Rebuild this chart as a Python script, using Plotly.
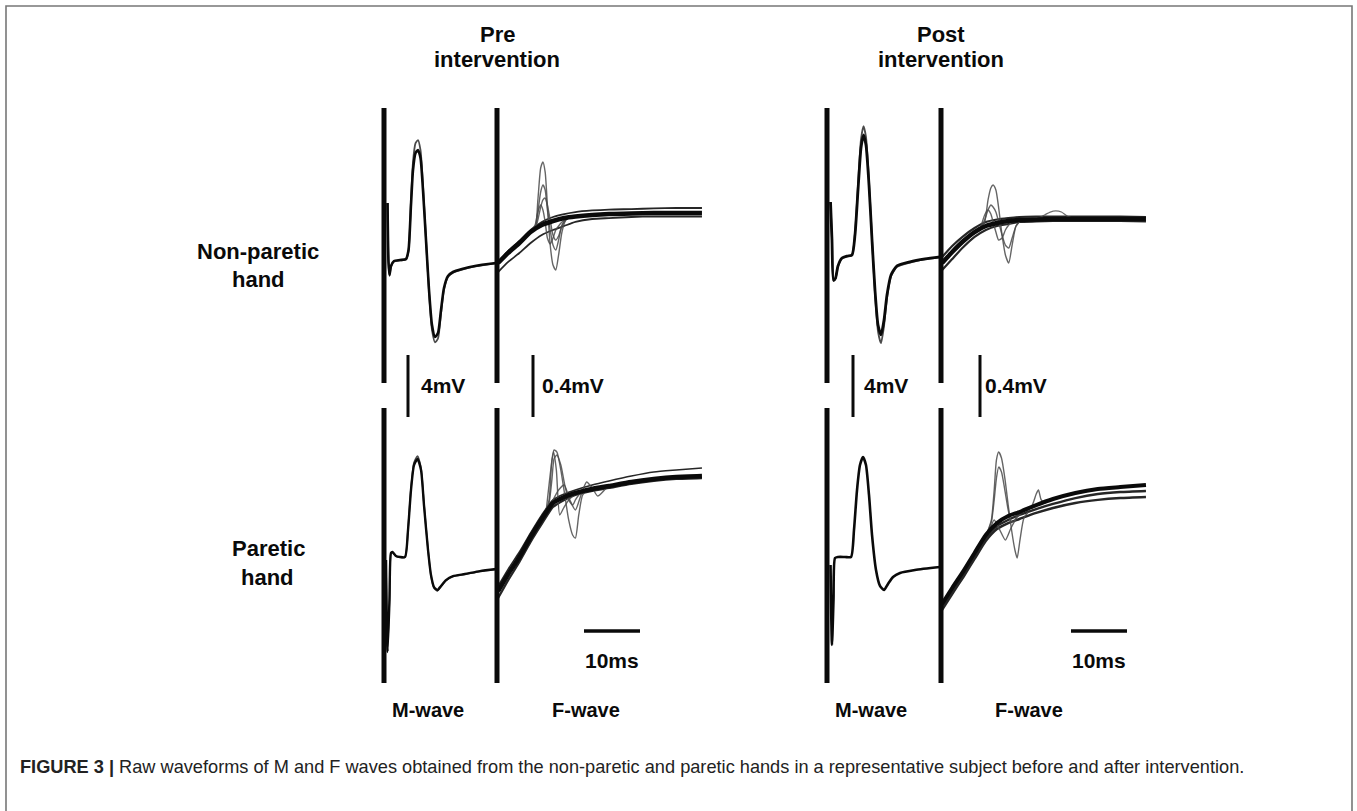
import plotly.graph_objects as go

W, H = 1357, 811

# ---------------- data (time in ms, amplitude in mV) ----------------
# M-waves
m_pre_np_t = [0.63, 0.80, 0.98, 1.25, 1.79, 2.86, 3.93, 4.38, 4.82, 5.18, 5.63, 6.07, 6.52, 6.96, 7.5, 8.04,
              8.57, 9.11, 9.64, 10.18, 10.71, 11.43, 12.32, 13.93, 16.25, 20.0]
m_pre_np_a = [2.74, -1.06, -1.90, -1.32, -1.00, -0.94, -0.87, -0.29, 2.61, 4.87, 5.97, 6.16, 5.65, 3.58, 0.35, -2.87,
              -5.13, -5.90, -5.65, -4.16, -2.74, -1.97, -1.71, -1.52, -1.32, -1.13]
m_pre_np_b = [2.74, -1.06, -1.95, -1.36, -1.03, -0.96, -0.90, -0.35, 2.90, 5.40, 6.60, 6.80, 6.15, 3.90, 0.40, -3.00,
              -5.45, -6.25, -6.00, -4.40, -2.85, -2.02, -1.75, -1.55, -1.35, -1.15]

m_pre_p_t = [0.36, 0.63, 0.98, 1.25, 1.52, 2.14, 2.86, 3.75, 4.29, 4.82, 5.36, 5.98, 6.61, 7.14, 7.86, 8.39,
             8.93, 9.55, 10.18, 11.07, 12.32, 14.46, 17.14, 20.0]
m_pre_p_a = [-0.94, -6.87, -3.52, -0.48, -0.42, -0.68, -0.74, -0.74, 1.0, 3.58, 5.19, 5.58, 4.87, 2.61, -0.29, -1.90,
             -2.68, -2.87, -2.61, -2.23, -1.97, -1.84, -1.65, -1.52]
m_pre_p_b = [-0.94, -6.80, -3.50, -0.50, -0.44, -0.70, -0.76, -0.76, 1.05, 3.70, 5.35, 5.77, 5.00, 2.70, -0.25, -1.95,
             -2.75, -2.93, -2.66, -2.26, -2.00, -1.86, -1.67, -1.54]

m_post_np_t = [0.63, 0.89, 1.16, 1.52, 1.96, 2.68, 3.57, 4.46, 5.0, 5.54, 6.07, 6.52, 6.96, 7.5, 8.04, 8.57,
               9.11, 9.64, 10.18, 10.71, 11.43, 12.5, 14.82, 17.5, 20.18]
m_post_np_a = [2.81, 0.35, -2.23, -2.10, -1.32, -0.81, -0.68, -0.61, 0.68, 3.58, 6.29, 7.13, 6.48, 3.90, 0.35, -2.87,
               -5.13, -5.77, -4.81, -3.19, -1.90, -1.32, -1.06, -0.87, -0.74]
m_post_np_b = [2.81, 0.35, -2.30, -2.15, -1.35, -0.83, -0.70, -0.63, 0.80, 3.95, 6.85, 7.70, 7.00, 4.20, 0.40, -3.10,
               -5.55, -6.30, -5.20, -3.40, -2.00, -1.38, -1.10, -0.90, -0.76]

m_post_p_t = [0.63, 0.89, 1.16, 1.43, 1.96, 3.21, 4.29, 4.82, 5.36, 5.89, 6.43, 6.96, 7.5, 8.04, 8.75, 9.46,
              10.18, 10.89, 11.79, 13.04, 15.71, 20.18]
m_post_p_a = [-1.26, -6.42, -3.52, -0.81, -0.74, -0.74, -0.74, 1.0, 3.58, 5.19, 5.71, 5.19, 3.26, 0.68, -1.58, -2.61,
              -2.87, -2.48, -2.03, -1.77, -1.58, -1.39]

# F-wave background (baseline) traces, common time grid
f_base_t = [0.2, 2, 4, 6, 8, 10, 12, 14, 17, 20, 24, 28, 32, 36.6]

f_pre_np_mid = [-0.113, -0.048, 0.016, 0.087, 0.132, 0.158, 0.177, 0.187, 0.197, 0.203, 0.206, 0.210, 0.210, 0.210]
f_pre_np_low = [-0.171, -0.106, -0.048, 0.016, 0.068, 0.100, 0.126, 0.152, 0.171, 0.177, 0.184, 0.187, 0.187, 0.187]
f_pre_np_up = [-0.106, -0.035, 0.029, 0.100, 0.152, 0.184, 0.203, 0.216, 0.226, 0.232, 0.235, 0.239, 0.242, 0.242]

f_pre_p_mid = [-0.294, -0.184, -0.074, 0.055, 0.171, 0.274, 0.313, 0.339, 0.365, 0.384, 0.410, 0.429, 0.442, 0.448]
f_pre_p_low = [-0.339, -0.223, -0.106, 0.023, 0.139, 0.248, 0.294, 0.326, 0.352, 0.371, 0.397, 0.416, 0.429, 0.435]
f_pre_p_up = [-0.261, -0.152, -0.042, 0.081, 0.197, 0.294, 0.332, 0.358, 0.390, 0.416, 0.448, 0.474, 0.487, 0.500]

f_post_np_mid = [-0.113, -0.042, 0.029, 0.087, 0.126, 0.145, 0.158, 0.165, 0.168, 0.171, 0.171, 0.171, 0.171, 0.171]
f_post_np_low = [-0.158, -0.087, -0.010, 0.055, 0.100, 0.126, 0.139, 0.152, 0.155, 0.158, 0.158, 0.158, 0.158, 0.155]
f_post_np_up = [-0.074, -0.003, 0.061, 0.113, 0.152, 0.168, 0.177, 0.184, 0.187, 0.187, 0.187, 0.187, 0.187, 0.184]

f_post_p_up = [-0.377, -0.274, -0.165, -0.048, 0.068, 0.145, 0.190, 0.216, 0.261, 0.300, 0.339, 0.365, 0.377, 0.390]
f_post_p_mid = [-0.397, -0.294, -0.184, -0.068, 0.048, 0.126, 0.165, 0.197, 0.235, 0.268, 0.306, 0.332, 0.345, 0.352]
f_post_p_low = [-0.416, -0.313, -0.203, -0.087, 0.029, 0.106, 0.145, 0.171, 0.210, 0.242, 0.274, 0.294, 0.306, 0.313]

# F-wave responses
fr_pre_np_t = [6, 6.8, 7.3, 7.8, 8.2, 8.6, 9.0, 9.5, 10.0, 10.5, 11.0, 11.6, 12.3, 13.4]
fr_pre_np_1 = [0.087, 0.106, 0.294, 0.500, 0.539, 0.474, 0.261, 0.003, -0.126, -0.158, -0.061, 0.087, 0.165, 0.190]
fr_pre_np_2 = [0.087, 0.106, 0.216, 0.345, 0.390, 0.358, 0.229, 0.100, 0.003, -0.029, 0.035, 0.132, 0.171, 0.190]
fr_pre_np_3 = [0.087, 0.106, 0.165, 0.248, 0.294, 0.306, 0.261, 0.165, 0.068, 0.035, 0.061, 0.126, 0.165, 0.190]
fr_pre_np_4 = [0.087, 0.132, 0.216, 0.261, 0.229, 0.152, 0.048, 0.010, 0.048, 0.100, 0.126, 0.152, 0.171, 0.190]

fr_pre_p_t = [8.5, 9.3, 9.8, 10.2, 10.7, 11.4, 12.1, 12.8, 13.5, 14.0, 14.6, 15.3, 16.3]
fr_pre_p_1 = [0.197, 0.294, 0.552, 0.616, 0.603, 0.487, 0.326, 0.165, 0.068, 0.048, 0.197, 0.326, 0.358]
fr_pre_p_2 = [0.197, 0.274, 0.423, 0.561, 0.584, 0.519, 0.390, 0.294, 0.261, 0.294, 0.326, 0.345, 0.358]
fr_pre_p_3_t = [8.5, 10, 11, 12, 13, 14, 15, 16, 17, 18, 19.5]
fr_pre_p_3 = [0.197, 0.294, 0.358, 0.390, 0.294, 0.229, 0.326, 0.410, 0.371, 0.319, 0.371]
fr_pre_p_4_t = [8.8, 9.6, 10.1, 10.6, 11.2, 11.9, 12.8, 14]
fr_pre_p_4 = [0.229, 0.487, 0.603, 0.487, 0.197, 0.242, 0.294, 0.332]

fr_post_np_t = [7.0, 7.8, 8.4, 8.9, 9.3, 9.8, 10.3, 10.9, 11.5, 12.1, 12.7, 13.4, 14.3]
fr_post_np_1 = [0.106, 0.152, 0.294, 0.371, 0.390, 0.358, 0.242, 0.068, -0.061, -0.113, 0.003, 0.126, 0.165]
fr_post_np_2 = [0.106, 0.165, 0.229, 0.261, 0.248, 0.216, 0.152, 0.068, 0.003, -0.016, 0.048, 0.126, 0.165]
fr_post_np_3 = [0.106, 0.197, 0.229, 0.203, 0.152, 0.087, 0.035, 0.048, 0.100, 0.132, 0.152, 0.158, 0.165]
fr_post_np_4_t = [17, 18.5, 19.5, 20.5, 21.5, 22.5, 24]
fr_post_np_4 = [0.171, 0.197, 0.216, 0.223, 0.216, 0.190, 0.171]

fr_post_p_t = [8.3, 9.0, 9.5, 9.9, 10.3, 10.8, 11.4, 12.0, 12.6, 13.2, 13.6, 14.1, 14.8, 15.6]
fr_post_p_1 = [0.087, 0.165, 0.358, 0.552, 0.603, 0.565, 0.435, 0.261, 0.100, -0.029, -0.081, 0.035, 0.177, 0.216]
fr_post_p_2 = [0.087, 0.152, 0.294, 0.435, 0.506, 0.474, 0.358, 0.229, 0.152, 0.165, 0.197, 0.216, 0.229, 0.229]
fr_post_p_3_t = [15.5, 16.3, 17.0, 17.4, 17.9, 18.6, 19.5]
fr_post_p_3 = [0.229, 0.261, 0.332, 0.358, 0.294, 0.274, 0.300]
fr_post_p_4_t = [8.5, 9.5, 10.5, 11.5, 12.5, 13.5, 14.5]
fr_post_p_4 = [0.074, 0.165, 0.100, 0.035, 0.113, 0.177, 0.216]

# scale bars
scale_m_mv = 4
scale_f_mv = 0.4
scale_t_ms = 10

# text
col_titles = [("Pre", "intervention"), ("Post", "intervention")]
row_titles = [("Non-paretic", "hand"), ("Paretic", "hand")]
wave_labels = ["M-wave", "F-wave"]
caption = ("<b>FIGURE 3 |</b> Raw waveforms of M and F waves obtained from the non-paretic and paretic hands "
           "in a representative subject before and after intervention.")

# ---------------- layout geometry (pixels) ----------------
PX_PER_MS = 5.6
PX_PER_MV_M = 15.5
PX_PER_MV_F = 155.0


def px(x):
    return x / W


def py(y):
    return 1 - y / H


col_lines = [(384, 497, 704), (827, 941, 1148)]  # M line, F line, F end
rows = [(108, 383), (408, 683)]
scale_rows = (355, 417)

fig = go.Figure()
BLACK = "#0a0a0a"
DARK = "#262626"
GRAY = "#4a4a4a"
FONT = "Liberation Sans, Arial, sans-serif"


def line(x, y, xa, ya, color, width, opacity=1.0):
    fig.add_trace(go.Scatter(x=x, y=y, xaxis=xa, yaxis=ya, mode="lines",
                             line=dict(color=color, width=width, shape="spline", smoothing=0.6),
                             opacity=opacity, hoverinfo="skip", showlegend=False))


# pre, non-paretic
line(m_pre_np_t, m_pre_np_b, "x", "y", GRAY, 1.8)
line(m_pre_np_t, m_pre_np_a, "x", "y", BLACK, 2.6)
line(f_base_t, f_pre_np_low, "x2", "y2", DARK, 1.8)
line(f_base_t, f_pre_np_up, "x2", "y2", DARK, 1.8)
for r in (fr_pre_np_1, fr_pre_np_2, fr_pre_np_3, fr_pre_np_4):
    line(fr_pre_np_t, r, "x2", "y2", GRAY, 1.4, 0.85)
line(f_base_t, f_pre_np_mid, "x2", "y2", BLACK, 4.5)
# pre, paretic
line(m_pre_p_t, m_pre_p_b, "x", "y3", GRAY, 1.6)
line(m_pre_p_t, m_pre_p_a, "x", "y3", BLACK, 2.4)
line(f_base_t, f_pre_p_low, "x2", "y4", DARK, 2.2)
line(f_base_t, f_pre_p_up, "x2", "y4", DARK, 1.6)
line(fr_pre_p_t, fr_pre_p_1, "x2", "y4", GRAY, 1.4, 0.85)
line(fr_pre_p_t, fr_pre_p_2, "x2", "y4", GRAY, 1.4, 0.85)
line(fr_pre_p_3_t, fr_pre_p_3, "x2", "y4", GRAY, 1.4, 0.85)
line(fr_pre_p_4_t, fr_pre_p_4, "x2", "y4", GRAY, 1.4, 0.85)
line(f_base_t, f_pre_p_mid, "x2", "y4", BLACK, 4.5)
# post, non-paretic
line(m_post_np_t, m_post_np_b, "x3", "y", GRAY, 1.8)
line(m_post_np_t, m_post_np_a, "x3", "y", BLACK, 2.8)
line(f_base_t, f_post_np_low, "x4", "y2", DARK, 2.2)
line(f_base_t, f_post_np_up, "x4", "y2", DARK, 2.2)
for r in (fr_post_np_1, fr_post_np_2, fr_post_np_3):
    line(fr_post_np_t, r, "x4", "y2", GRAY, 1.4, 0.85)
line(fr_post_np_4_t, fr_post_np_4, "x4", "y2", GRAY, 1.3, 0.8)
line(f_base_t, f_post_np_mid, "x4", "y2", BLACK, 4.5)
# post, paretic
line(m_post_p_t, m_post_p_a, "x3", "y3", BLACK, 2.6)
line(f_base_t, f_post_p_low, "x4", "y4", DARK, 2.4)
line(f_base_t, f_post_p_mid, "x4", "y4", DARK, 2.4)
line(fr_post_p_t, fr_post_p_1, "x4", "y4", GRAY, 1.4, 0.85)
line(fr_post_p_t, fr_post_p_2, "x4", "y4", GRAY, 1.4, 0.85)
line(fr_post_p_3_t, fr_post_p_3, "x4", "y4", GRAY, 1.4, 0.85)
line(fr_post_p_4_t, fr_post_p_4, "x4", "y4", GRAY, 1.4, 0.85)
line(f_base_t, f_post_p_up, "x4", "y4", BLACK, 4)

# scale bars (drawn on the panels' own scales)
m_bar_ms = [(408 - 384) / PX_PER_MS, (853 - 827) / PX_PER_MS]
f_bar_ms = [(533 - 497) / PX_PER_MS, (980 - 941) / PX_PER_MS]
t_bar_start = [(584 - 497) / PX_PER_MS, (1071 - 941) / PX_PER_MS]
t_bar_y = (545.5 - 631) / PX_PER_MV_F
for i, (xm, xf) in enumerate([("x", "x2"), ("x3", "x4")]):
    fig.add_trace(go.Scatter(x=[m_bar_ms[i]] * 2, y=[0, scale_m_mv], xaxis=xm, yaxis="y5", mode="lines",
                             line=dict(color=BLACK, width=3), hoverinfo="skip", showlegend=False))
    fig.add_trace(go.Scatter(x=[f_bar_ms[i]] * 2, y=[0, scale_f_mv], xaxis=xf, yaxis="y6", mode="lines",
                             line=dict(color=BLACK, width=3), hoverinfo="skip", showlegend=False))
    fig.add_trace(go.Scatter(x=[t_bar_start[i], t_bar_start[i] + scale_t_ms], y=[t_bar_y] * 2, xaxis=xf,
                             yaxis="y4", mode="lines", line=dict(color=BLACK, width=3.5),
                             hoverinfo="skip", showlegend=False))

hidden = dict(visible=False, showgrid=False, zeroline=False, fixedrange=True)
lay = {}
for i, (xm, xf, xe) in enumerate(col_lines):
    n_m = 1 + 2 * i
    n_f = 2 + 2 * i
    lay["xaxis" if n_m == 1 else f"xaxis{n_m}"] = dict(hidden, domain=[px(xm), px(xf)],
                                                       range=[0, (xf - xm) / PX_PER_MS], anchor="y")
    lay[f"xaxis{n_f}"] = dict(hidden, domain=[px(xf), px(xe)], range=[0, (xe - xf) / PX_PER_MS], anchor="y")

half_m = (rows[0][1] - rows[0][0]) / 2 / PX_PER_MV_M
half_f = (rows[0][1] - rows[0][0]) / 2 / PX_PER_MV_F
lay["yaxis"] = dict(hidden, domain=[py(rows[0][1]), py(rows[0][0])], range=[-half_m, half_m], anchor="x")
lay["yaxis2"] = dict(hidden, domain=[py(rows[0][1]), py(rows[0][0])], range=[-half_f, half_f], anchor="x")
lay["yaxis3"] = dict(hidden, domain=[py(rows[1][1]), py(rows[1][0])], range=[-half_m, half_m], anchor="x")
lay["yaxis4"] = dict(hidden, domain=[py(rows[1][1]), py(rows[1][0])], range=[-half_f, half_f], anchor="x")
sh = scale_rows[1] - scale_rows[0]
lay["yaxis5"] = dict(hidden, domain=[py(scale_rows[1]), py(scale_rows[0])], range=[0, sh / PX_PER_MV_M], anchor="x")
lay["yaxis6"] = dict(hidden, domain=[py(scale_rows[1]), py(scale_rows[0])], range=[0, sh / PX_PER_MV_F], anchor="x")

shapes = []
for (xm, xf, xe) in col_lines:
    for (r0, r1) in rows:
        for xx in (xm, xf):
            shapes.append(dict(type="line", xref="paper", yref="paper", x0=px(xx), x1=px(xx),
                               y0=py(r0), y1=py(r1), line=dict(color=BLACK, width=5)))
# outer frame (open at the bottom edge of the picture)
shapes.append(dict(type="rect", xref="paper", yref="paper", x0=px(6), x1=px(1352), y0=py(6), y1=py(840),
                   line=dict(color="#777777", width=1.6), fillcolor="rgba(0,0,0,0)"))

ann = []


def txt(s, x, y, size=22, anchor="center", color=BLACK, bold=True):
    ann.append(dict(text=f"<b>{s}</b>" if bold else s, x=px(x), y=py(y), xref="paper", yref="paper",
                    showarrow=False, xanchor=anchor, yanchor="middle",
                    font=dict(family=FONT, size=size, color=color)))


for (t1, t2), cx in zip(col_titles, (497, 941)):
    txt(t1, cx, 35)
    txt(t2, cx, 60)
txt(row_titles[0][0], 258, 252)
txt(row_titles[0][1], 258, 280)
txt(row_titles[1][0], 268, 548)
txt(row_titles[1][1], 267, 577)
for off in (0, 443):
    txt("4mV", 419 + off, 385, size=21, anchor="left")
    txt("0.4mV", 540 + off, 385, size=21, anchor="left")
for cx in (612, 1099):
    txt("10ms", cx, 660, size=21)
for off in (0, 443):
    txt(wave_labels[0], 428 + off, 710, size=20)
    txt(wave_labels[1], 586 + off, 710, size=20)

ann.append(dict(text=caption, x=px(18), y=py(767), xref="paper", yref="paper", showarrow=False,
                xanchor="left", yanchor="middle", font=dict(family=FONT, size=18.2, color="#222222")))

fig.update_layout(width=W, height=H, margin=dict(l=0, r=0, t=0, b=0), paper_bgcolor="white",
                  plot_bgcolor="rgba(0,0,0,0)", shapes=shapes, annotations=ann, showlegend=False, **lay)
fig.write_html("out.html", config={"displayModeBar": False, "staticPlot": True},
               post_script="document.body.style.margin='0px';document.body.style.overflow='hidden';")
